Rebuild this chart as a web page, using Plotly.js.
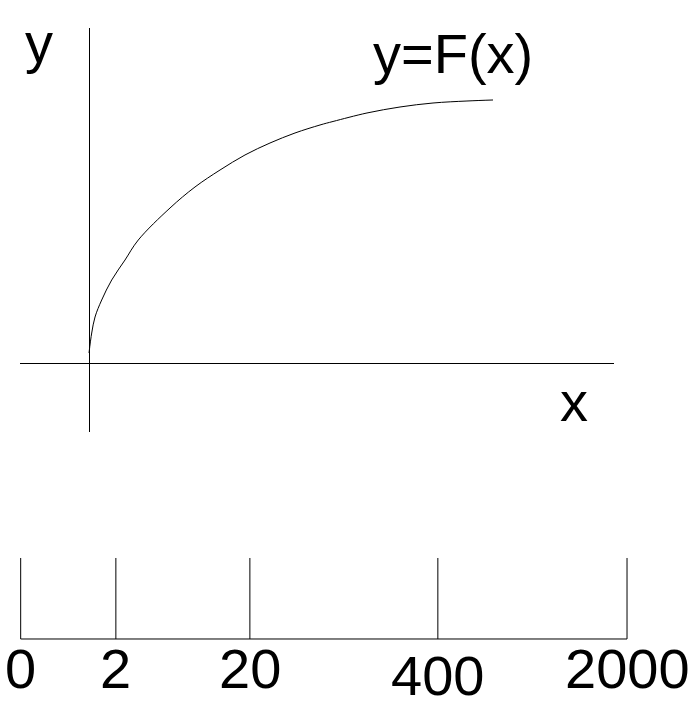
<!DOCTYPE html>
<html>
<head>
<meta charset="utf-8">
<script src="https://cdn.plot.ly/plotly-3.0.1.min.js"></script>
<style>html,body{margin:0;padding:0;background:#fff;}#chart{width:697px;height:717px;}</style>
</head>
<body>
<div id="chart"></div>
<script>
// Curve y = F(x), schematic values (arbitrary units)
const curveX = [0, 0.067, 0.149, 0.314, 0.562, 0.891, 1.220, 2.005, 2.624, 3.243, 3.861, 4.480, 5.099, 5.718, 6.040, 6.881, 7.698, 8.515, 9.356, 10];
const curveY = [0.417, 1.174, 1.780, 2.424, 3.182, 3.939, 4.697, 5.909, 6.705, 7.348, 7.917, 8.371, 8.750, 9.053, 9.186, 9.508, 9.735, 9.886, 9.962, 10];

// Number line below
const tickLabels = ['0', '2', '20', '400', '2000'];
const tickPos = [0, 0.157, 0.378, 0.688, 1];

const W = 697, H = 717;
const px = v => v / W;
const py = v => 1 - v / H;

// build number-line segments
const nlX = [tickPos[0], tickPos[tickPos.length - 1], null];
const nlY = [0, 0, null];
tickPos.forEach(p => { nlX.push(p, p, null); nlY.push(0, 1, null); });

const FONT = 'Liberation Sans, Arial, sans-serif';

const traces = [
  {x: curveX, y: curveY, type: 'scatter', mode: 'lines', xaxis: 'x', yaxis: 'y',
   line: {color: '#000', width: 1, shape: 'spline', smoothing: 1}, hoverinfo: 'skip'},
  {x: nlX, y: nlY, type: 'scatter', mode: 'lines', xaxis: 'x2', yaxis: 'y2',
   line: {color: '#000', width: 1}, hoverinfo: 'skip'}
];

const annotations = [
  {text: 'y', x: px(38.5), y: py(42.6)},
  {text: 'y=F(x)', x: px(453), y: py(53.6)},
  {text: 'x', x: px(574), y: py(401.6)}
].map(a => Object.assign(a, {xref: 'paper', yref: 'paper', xanchor: 'center', yanchor: 'middle',
  showarrow: false, font: {family: FONT, size: 56, color: '#000'}}));

tickLabels.forEach((t, i) => {
  annotations.push({text: t, x: tickPos[i], xref: 'x2', y: py(t === '400' ? 675.6 : 668.6), yref: 'paper',
    xanchor: 'center', yanchor: 'middle', showarrow: false,
    font: {family: FONT, size: 56, color: '#000'}});
});

const hidden = {showgrid: false, showticklabels: false, ticks: '', showline: false, fixedrange: true};

const layout = {
  width: W, height: H,
  margin: {l: 0, r: 0, t: 0, b: 0, pad: 0},
  paper_bgcolor: '#fff', plot_bgcolor: 'rgba(0,0,0,0)',
  showlegend: false,
  xaxis: Object.assign({}, hidden, {domain: [20 / W, 614 / W], range: [-1.708, 12.995],
    zeroline: true, zerolinecolor: '#000', zerolinewidth: 1}),
  yaxis: Object.assign({}, hidden, {domain: [1 - 432 / H, 1 - 28 / H], range: [-2.576, 12.727],
    zeroline: true, zerolinecolor: '#000', zerolinewidth: 1}),
  xaxis2: Object.assign({}, hidden, {domain: [0, 1], range: [-0.0341, 1.1154], zeroline: false, anchor: 'y2'}),
  yaxis2: Object.assign({}, hidden, {domain: [(H - 639 - 16.2) / H, (H - 558 + 16.2) / H], range: [-0.2, 1.2],
    zeroline: false, anchor: 'x2'}),
  annotations: annotations
};

Plotly.newPlot('chart', traces, layout, {displayModeBar: false, staticPlot: true});
</script>
</body>
</html>
